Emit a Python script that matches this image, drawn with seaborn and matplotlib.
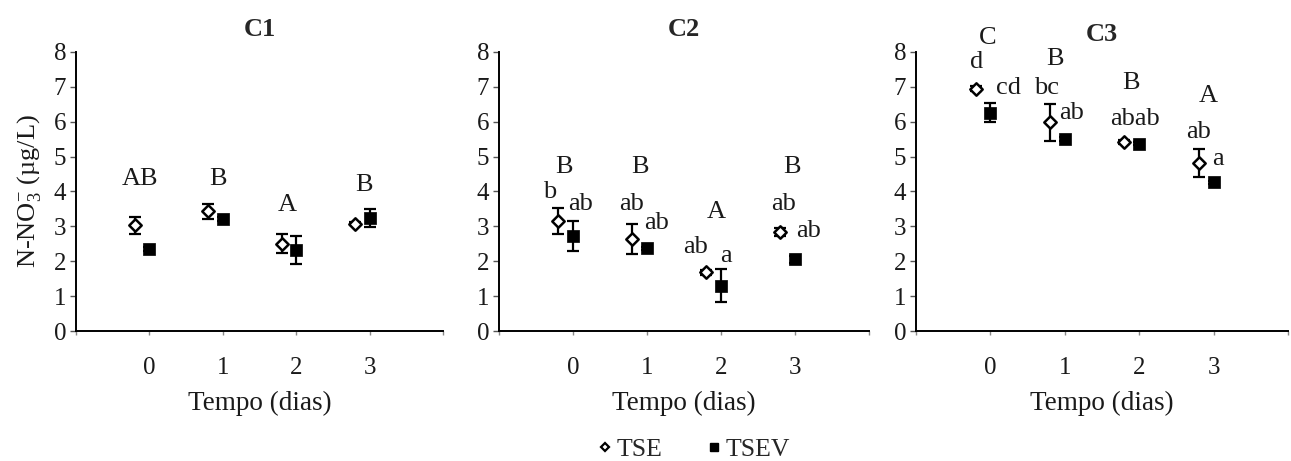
import matplotlib
matplotlib.use("Agg")
import matplotlib.pyplot as plt
from matplotlib.lines import Line2D
import seaborn as sns
import pandas as pd

# ---------------- data ----------------
days = [0, 1, 2, 3]
panels = ["C1", "C2", "C3"]

tse_c1 = [3.03, 3.43, 2.50, 3.08]
tse_c1_err = [0.25, 0.21, 0.27, 0.05]
tsev_c1 = [2.35, 3.22, 2.31, 3.24]
tsev_c1_err = [0.05, 0.06, 0.40, 0.27]

tse_c2 = [3.15, 2.64, 1.68, 2.83]
tse_c2_err = [0.37, 0.44, 0.07, 0.12]
tsev_c2 = [2.72, 2.37, 1.30, 2.06]
tsev_c2_err = [0.43, 0.05, 0.47, 0.10]

tse_c3 = [6.95, 5.98, 5.42, 4.83]
tse_c3_err = [0.07, 0.53, 0.05, 0.40]
tsev_c3 = [6.26, 5.51, 5.37, 4.26]
tsev_c3_err = [0.28, 0.05, 0.05, 0.05]

# significance letters: (text, x, y) in data coordinates
letters_c1 = ["AB", "B", "A", "B"]
letters_c1_x = [-0.13, 0.93, 1.88, 2.93]
letters_c1_y = [4.36, 4.36, 3.62, 4.19]

letters_c2 = ["B", "b", "ab", "B", "ab", "ab", "A", "ab", "a", "B", "ab", "ab"]
letters_c2_x = [-0.12, -0.31, 0.10, 0.91, 0.79, 1.13, 1.94, 1.65, 2.06, 2.96, 2.84, 3.19]
letters_c2_y = [4.69, 3.98, 3.63, 4.69, 3.63, 3.10, 3.41, 2.42, 2.15, 4.69, 3.63, 2.87]

letters_c3 = ["C", "d", "cd", "B", "bc", "ab", "B", "abab", "A", "ab", "a"]
letters_c3_x = [-0.04, -0.18, 0.24, 0.87, 0.75, 1.09, 1.89, 1.95, 2.93, 2.80, 3.06]
letters_c3_y = [8.40, 7.70, 6.97, 7.81, 6.97, 6.26, 7.12, 6.07, 6.75, 5.70, 4.93]

y_label = "N-NO$_3^{-}$ (µg/L)"
x_label = "Tempo (dias)"
series_names = ["TSE", "TSEV"]

# ---------------- build table ----------------
rows = []
series = {
    "C1": (tse_c1, tse_c1_err, tsev_c1, tsev_c1_err),
    "C2": (tse_c2, tse_c2_err, tsev_c2, tsev_c2_err),
    "C3": (tse_c3, tse_c3_err, tsev_c3, tsev_c3_err),
}
for p in panels:
    a, ae, b, be = series[p]
    for i, d in enumerate(days):
        rows.append(dict(panel=p, day=d, trat="TSE", value=a[i], err=ae[i]))
        rows.append(dict(panel=p, day=d, trat="TSEV", value=b[i], err=be[i]))
df = pd.DataFrame(rows)

letters = {
    "C1": (letters_c1, letters_c1_x, letters_c1_y),
    "C2": (letters_c2, letters_c2_x, letters_c2_y),
    "C3": (letters_c3, letters_c3_x, letters_c3_y),
}

# ---------------- style ----------------
sns.set_theme(style="ticks")
plt.rcParams["font.family"] = ["Liberation Serif", "DejaVu Serif"]
plt.rcParams["mathtext.fontset"] = "custom"
plt.rcParams["mathtext.rm"] = "Liberation Serif"
plt.rcParams["mathtext.it"] = "Liberation Serif:italic"
plt.rcParams["mathtext.bf"] = "Liberation Serif:bold"

offsets = {"TSE": -0.2, "TSEV": 0.0}
text_color = "#1a1a1a"

fig = plt.figure(figsize=(12.91, 4.61), dpi=100)
lefts = [76, 499, 916]
rights = [443, 869, 1288]
W, H = 1291, 461
bottom_px, top_px = 331, 52
title_pads = [11.5, 11.5, 8]

for k, p in enumerate(panels):
    ax = fig.add_axes([lefts[k] / W, 1 - bottom_px / H,
                       (rights[k] - lefts[k]) / W, (bottom_px - top_px) / H])
    sub = df[df.panel == p].copy()
    sub["x"] = sub["day"] + sub["trat"].map(offsets)

    for t in series_names:
        s = sub[sub.trat == t]
        ax.errorbar(s["x"], s["value"], yerr=s["err"], fmt="none",
                    ecolor="black", elinewidth=1.6, capsize=4, capthick=1.6, zorder=2)

    s1 = sub[sub.trat == "TSE"]
    sns.scatterplot(data=s1, x="x", y="value", marker="D", s=40,
                    facecolor="white", edgecolor="black", linewidth=1.8,
                    ax=ax, zorder=3, legend=False)
    s2 = sub[sub.trat == "TSEV"]
    sns.scatterplot(data=s2, x="x", y="value", marker="s", s=85,
                    color="black", edgecolor="black", linewidth=0.5,
                    ax=ax, zorder=3, legend=False)

    txt, lx, ly = letters[p]
    for t, x, y in zip(txt, lx, ly):
        ax.text(x, y, t, ha="center", va="center", fontsize=19, color=text_color)

    ax.set_xlim(-1, 4)
    ax.set_ylim(0, 8)
    ax.set_xticks([-1, 0, 1, 2, 3, 4])
    ax.set_xticklabels(["", "0", "1", "2", "3", ""])
    ax.set_yticks(range(0, 9))
    ax.tick_params(axis="x", length=3, width=1, color="#888888", pad=16,
                   labelsize=18, labelcolor=text_color)
    ax.tick_params(axis="y", length=4, width=1, color="#555555", pad=3,
                   labelsize=18, labelcolor=text_color)
    for sp in ["top", "right"]:
        ax.spines[sp].set_visible(False)
    for sp in ["left", "bottom"]:
        ax.spines[sp].set_color("black")
        ax.spines[sp].set_linewidth(1.4)
    ax.set_xlabel(x_label, fontsize=19.5, labelpad=8.5, color=text_color)
    ax.set_ylabel(y_label if k == 0 else "", fontsize=19, labelpad=8, color=text_color)
    ax.set_title(p, fontsize=19, fontweight="bold", pad=title_pads[k])
    ax.grid(False)

handles = [
    Line2D([], [], marker="D", linestyle="none", markerfacecolor="white",
           markeredgecolor="black", markeredgewidth=1.6, markersize=4.5),
    Line2D([], [], marker="s", linestyle="none", color="black", markersize=6),
]
fig.legend(handles, series_names, loc="center", bbox_to_anchor=(0.537, 0.026),
           ncol=2, frameon=False, fontsize=18.5, handletextpad=0.15,
           columnspacing=1.7, handlelength=0.6, borderpad=0.1)

fig.savefig("out.png", dpi=100)
